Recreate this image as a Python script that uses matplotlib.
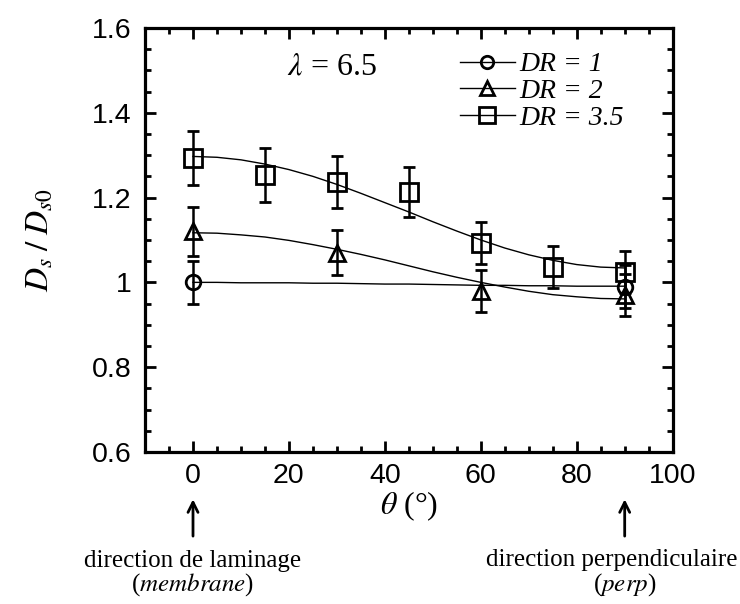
import matplotlib
matplotlib.use('Agg')
import matplotlib.pyplot as plt
from matplotlib.lines import Line2D
from matplotlib.ticker import MultipleLocator

plt.rcParams['mathtext.fontset'] = 'stix'

# measured points
theta_dr1 = [0, 90]
ds_dr1 = [1.00, 0.99]
err_dr1 = [0.05, 0.05]

theta_dr2 = [0, 30, 60, 90]
ds_dr2 = [1.12, 1.07, 0.98, 0.97]
err_dr2 = [0.057, 0.053, 0.05, 0.05]

theta_dr35 = [0, 15, 30, 45, 60, 75, 90]
ds_dr35 = [1.293, 1.253, 1.237, 1.213, 1.093, 1.036, 1.024]
err_dr35 = [0.063, 0.063, 0.062, 0.06, 0.05, 0.05, 0.05]

# fitted curves every 5 deg
theta_fit = [0, 5, 10, 15, 20, 25, 30, 35, 40, 45, 50, 55, 60, 65, 70, 75, 80, 85, 90]
fit_dr1 = [1.000, 1.000, 0.999, 0.999, 0.999, 0.998, 0.998, 0.997, 0.996, 0.996,
           0.995, 0.994, 0.993, 0.993, 0.992, 0.992, 0.991, 0.991, 0.991]
fit_dr2 = [1.117, 1.116, 1.112, 1.107, 1.099, 1.089, 1.078, 1.066, 1.053, 1.039,
           1.025, 1.012, 1.000, 0.989, 0.979, 0.971, 0.966, 0.962, 0.961]
fit_dr35 = [1.297, 1.295, 1.289, 1.279, 1.266, 1.250, 1.231, 1.210, 1.188, 1.166,
            1.143, 1.121, 1.100, 1.081, 1.065, 1.052, 1.042, 1.036, 1.034]

labels = ['DR = 1', 'DR = 2', 'DR = 3.5']
markers = ['o', '^', 's']
msizes = [10.5, 12, 13]

fig = plt.figure(figsize=(7.4, 6.04), dpi=100)
ax = fig.add_axes([0.196, 0.2517, 0.713, 0.702])

series = [(theta_dr1, ds_dr1, err_dr1, fit_dr1),
          (theta_dr2, ds_dr2, err_dr2, fit_dr2),
          (theta_dr35, ds_dr35, err_dr35, fit_dr35)]

handles = []
for (x, y, e, fit), lab, m, ms in zip(series, labels, markers, msizes):
    ax.plot(theta_fit, fit, color='black', lw=1.0, zorder=2)
    ax.errorbar(x, y, yerr=e, fmt=m, ms=ms, mfc='none', mec='black', mew=2,
                ecolor='black', elinewidth=1.8, capsize=4.5, capthick=1.8, zorder=3)
    handles.append(Line2D([], [], color='black', lw=1.0, marker=m, ms=ms * 0.85,
                          mfc='none', mec='black', mew=2, label=lab))

ax.set_xlim(-10, 100)
ax.set_ylim(0.6, 1.6)
ax.xaxis.set_major_locator(MultipleLocator(20))
ax.xaxis.set_minor_locator(MultipleLocator(5))
ax.yaxis.set_major_locator(MultipleLocator(0.2))
ax.yaxis.set_minor_locator(MultipleLocator(0.05))
ax.set_yticks([0.6, 0.8, 1.0, 1.2, 1.4, 1.6])
ax.set_yticklabels(['0.6', '0.8', '1', '1.2', '1.4', '1.6'])

for s in ax.spines.values():
    s.set_linewidth(2.3)
ax.tick_params(which='both', direction='in', top=True, right=True, width=2)
ax.tick_params(which='major', length=8)
ax.tick_params(which='minor', length=4.5)
ax.tick_params(axis='x', which='major', pad=8)
ax.tick_params(axis='y', which='major', pad=10)
for t in ax.get_xticklabels() + ax.get_yticklabels():
    t.set_fontfamily('Liberation Sans')
    t.set_fontsize(20.5)

ax.set_xlabel(r'$\theta$ (°)', family='Liberation Serif', fontsize=23, labelpad=0)
ax.set_ylabel(r'$D_s\;/\;D_{s0}$', fontsize=24, labelpad=26)

ax.text(19.6, 1.508, r'$\lambda$ = 6.5', family='Liberation Serif', fontsize=23,
        ha='left', va='center')

leg = ax.legend(handles=handles, loc='upper left', bbox_to_anchor=(0.575, 0.97),
                frameon=False, handlelength=2.0, handletextpad=0.15,
                labelspacing=0.05, borderaxespad=0,
                prop={'family': 'Liberation Serif', 'style': 'italic', 'size': 20})

# direction arrows under the axis
trans = ax.get_xaxis_transform()
for xpos in [0, 90]:
    ax.annotate('', xy=(xpos, -0.105), xytext=(xpos, -0.205), xycoords=trans,
                textcoords=trans, annotation_clip=False,
                arrowprops=dict(arrowstyle='->', lw=2, color='black',
                                mutation_scale=18))

ax.text(0, -0.258, 'direction de laminage', transform=trans, ha='center',
        va='center', family='Liberation Serif', fontsize=18)
ax.text(0, -0.312, r'($\mathit{membrane}$)', transform=trans, ha='center',
        va='center', family='Liberation Serif', fontsize=18)
fig.text(0.997, 1 - 560 / 604, 'direction perpendiculaire', ha='right',
         va='center', family='Liberation Serif', fontsize=18)
ax.text(90, -0.312, r'($\mathit{perp}$)', transform=trans, ha='center',
        va='center', family='Liberation Serif', fontsize=18)

fig.savefig('out.png', dpi=100)
